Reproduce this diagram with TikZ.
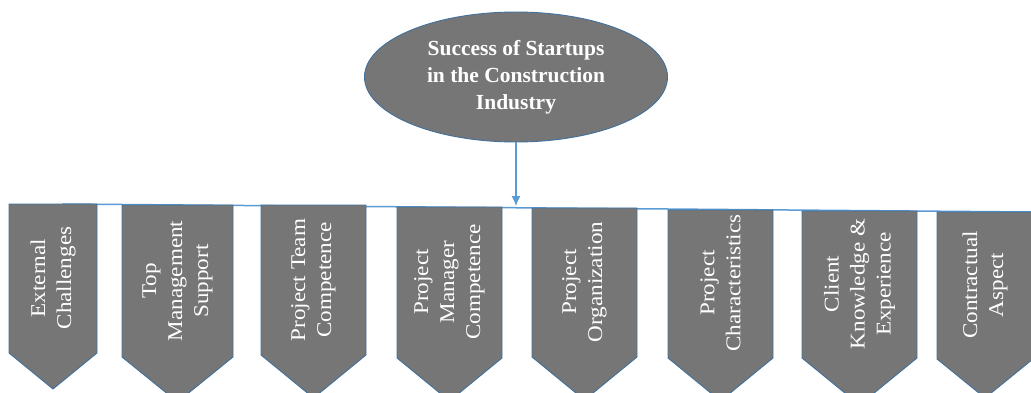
\documentclass[tikz,border=0pt]{standalone}
\usepackage{fontspec}
\setmainfont{Liberation Serif}
\newfontfamily\bannerfont[FakeStretch=1.1]{Liberation Serif}
\usetikzlibrary{shapes.geometric,arrows.meta}

\definecolor{boxgray}{RGB}{118,118,118}
\definecolor{edgeblue}{RGB}{65,113,156}
\definecolor{linkblue}{RGB}{91,155,213}

\begin{document}
\begin{tikzpicture}[x = 1pt,
y = -1pt,
banner/.style = {fill=boxgray, draw=edgeblue, line width=0.9pt},
bannertext/.style = {rotate=90, text=white, align=center, inner sep=0pt,
  font=\bannerfont\fontsize{21}{26}\selectfont}]
\useasboundingbox (0,0) rectangle (1031,393);

% goal at the top
\node[ellipse, fill=boxgray, draw=edgeblue, line width=0.9pt,
  minimum width=303pt, minimum height=130pt, inner sep=0pt,
  text=white, align=center, font=\bfseries\fontsize{21.5}{27}\selectfont]
  (goal) at (516,77) {Success of Startups\\in the Construction\\Industry};

% bus line under the goal
\coordinate (busL) at (62,204);
\coordinate (busR) at (1031,212);
\coordinate (hub) at (516,206);
\draw[linkblue, line width=1.5pt] (busL) -- (busR);
\draw[linkblue, line width=1.2pt, -{Latex[length=10pt,width=9pt]}] (goal.south) -- (hub);

% factor banners
\draw[banner] (9,204) -- (97,204) -- (97,353) -- (53,389) -- (9,353) -- cycle;
\draw[banner] (122,205) -- (233,205) -- (233,357) -- (177.5,402) -- (122,357) -- cycle;
\draw[banner] (261,205) -- (366,205) -- (366,355) -- (313.5,398) -- (261,355) -- cycle;
\draw[banner] (397,207) -- (502,207) -- (502,358) -- (449.5,401) -- (397,358) -- cycle;
\draw[banner] (532,208) -- (637,208) -- (637,357) -- (584.5,400) -- (532,357) -- cycle;
\draw[banner] (668,210) -- (773,210) -- (773,358) -- (720.5,401) -- (668,358) -- cycle;
\draw[banner] (802,211) -- (917,211) -- (917,358) -- (859.5,405) -- (802,358) -- cycle;
\draw[banner] (937,212) -- (1033,212) -- (1033,359) -- (985,398) -- (937,359) -- cycle;

\node[bannertext] (f1) at (53,278) {External\\Challenges};
\node[bannertext] (f2) at (177.5,281) {Top\\Management\\Support};
\node[bannertext] (f3) at (313.5,280) {Project Team\\Competence};
\node[bannertext] (f4) at (449.5,282) {Project\\Manager\\Competence};
\node[bannertext] (f5) at (584.5,282) {Project\\Organization};
\node[bannertext] (f6) at (720.5,283) {Project\\Characteristics};
\node[bannertext] (f7) at (859.5,284) {Client\\Knowledge \&\\Experience};
\node[bannertext] (f8) at (985,285) {Contractual\\Aspect};
\end{tikzpicture}
\end{document}
